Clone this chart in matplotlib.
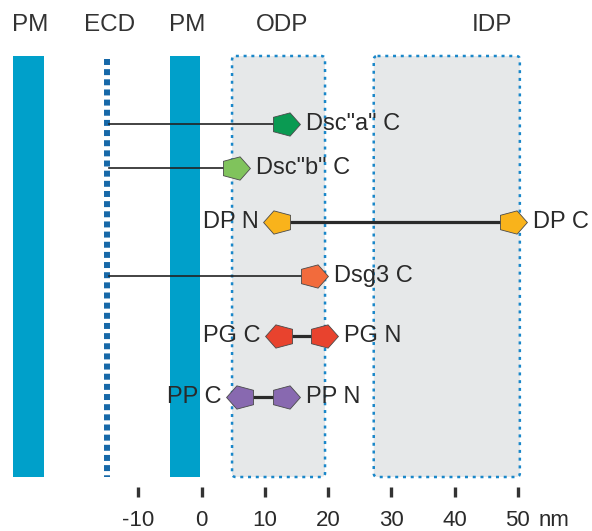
import numpy as np
import matplotlib.pyplot as plt
from matplotlib.path import Path
from matplotlib.patches import FancyBboxPatch, Rectangle

plt.rcParams['font.family'] = ['Liberation Sans', 'DejaVu Sans']

# positions in nm (0 = cytoplasmic face of plasma membrane)
tick_vals = [-10, 0, 10, 20, 30, 40, 50]
pm_left = (-29.8, -24.9)
pm_right = (-5.0, -0.2)
ecd_x = -15.0
odp = (4.8, 19.5)
idp = (27.2, 50.3)

region_names = ['PM', 'ECD', 'PM', 'ODP', 'IDP']
region_label_x = [-27.1, -14.5, -2.3, 12.7, 45.9]

# cadherin tails, anchored at the ECD
cad_names = ['Dsc"a" C', 'Dsc"b" C', 'Dsg3 C']
cad_pos = [13.2, 5.3, 17.6]
cad_colors = ['#0a9a52', '#80c35c', '#f26b3c']

# proteins with both ends mapped
pair_names = [('DP N', 'DP C'), ('PG C', 'PG N'), ('PP C', 'PP N')]
pair_pos = [(12.1, 49.1), (12.4, 19.2), (6.2, 13.2)]
pair_colors = ['#f9b31b', '#e8432e', '#8869b0']

# vertical layout (pixel rows from top)
cad_rows = [124, 168, 276]
pair_rows = [222, 336, 397]
top, bottom = 56, 477

fig = plt.figure(figsize=(5.92, 5.31), dpi=100)
ax = fig.add_axes([0, 0, 1, 1])
ax.set_xlim(-31.89, 61.71)
ax.set_ylim(531, 0)
ax.axis('off')

# squashed pentagon markers
ang = np.deg2rad([0, 72, 144, 216, 288, 0])
verts_r = np.column_stack([np.cos(ang), 0.82 * np.sin(ang)])
right_pent = Path(verts_r, closed=True)
left_pent = Path(verts_r * [-1, 1], closed=True)

txt_col = '#2a2a2a'
fs = 17
ms = 21.5

# dotted boxes
for (x0, x1) in [odp, idp]:
    box = FancyBboxPatch((x0, top), x1 - x0, bottom - top,
                         boxstyle='round,pad=0,rounding_size=0.6',
                         mutation_aspect=6.3,
                         facecolor='#e6e8e9', edgecolor='#1a87c9',
                         linewidth=1.8, linestyle=(0, (1.2, 1.9)), zorder=1)
    ax.add_patch(box)

# membranes
for (x0, x1) in [pm_left, pm_right]:
    ax.add_patch(Rectangle((x0, top), x1 - x0, bottom - top,
                           facecolor='#00a0ca', edgecolor='none', zorder=2))

# ECD dotted line
ax.plot([ecd_x, ecd_x], [top + 3, bottom], color='#1668a8', lw=4.3,
        linestyle=(0, (1.0, 0.7)), solid_capstyle='butt',
        dash_capstyle='butt', zorder=2)

# region titles
for name, x in zip(region_names, region_label_x):
    ax.text(x, 25, name, ha='center', va='center', fontsize=17.5,
            color='#333333')

off = 15

for name, x, y, c in zip(cad_names, cad_pos, cad_rows, cad_colors):
    ax.plot([ecd_x + 0.4, x], [y, y], color='#222222', lw=1.2, zorder=3)
    ax.plot(x, y, marker=right_pent, ms=ms, color=c, mec='#4a4a4a', mew=0.6,
            zorder=4)
    ax.annotate(name, (x, y), xytext=(off, 0), textcoords='offset points',
                ha='left', va='center', fontsize=fs, color=txt_col, zorder=5)

for (n0, n1), (x0, x1), y, c in zip(pair_names, pair_pos, pair_rows, pair_colors):
    ax.plot([x0, x1], [y, y], color='#2a2a2a', lw=2.3, zorder=3)
    ax.plot(x0, y, marker=left_pent, ms=ms, color=c, mec='#4a4a4a', mew=0.6,
            zorder=4)
    ax.plot(x1, y, marker=right_pent, ms=ms, color=c, mec='#4a4a4a', mew=0.6,
            zorder=4)
    ax.annotate(n0, (x0, y), xytext=(-off + 1, 0), textcoords='offset points',
                ha='right', va='center', fontsize=fs, color=txt_col, zorder=5)
    ax.annotate(n1, (x1, y), xytext=(off, 0), textcoords='offset points',
                ha='left', va='center', fontsize=fs, color=txt_col, zorder=5)

# scale
for t in tick_vals:
    ax.plot([t, t], [487, 497], color='#333333', lw=2.4, solid_capstyle='butt')
    ax.text(t, 520, str(t), ha='center', va='center', fontsize=16, color=txt_col)
ax.annotate('nm', (tick_vals[-1], 520), xytext=(15, 0), textcoords='offset points',
            ha='left', va='center', fontsize=16, color=txt_col)

fig.savefig('out.png', dpi=100)
